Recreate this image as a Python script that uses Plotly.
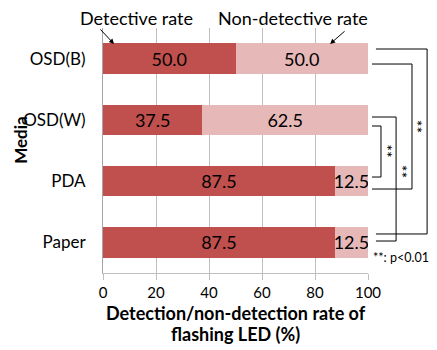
import plotly.graph_objects as go

media = ["OSD(B)", "OSD(W)", "PDA", "Paper"]
detective = [50.0, 37.5, 87.5, 87.5]
non_detective = [50.0, 62.5, 12.5, 12.5]
x_ticks = [0, 20, 40, 60, 80, 100]
# significance pairs (index of top category, index of bottom category)
sig_pairs = [(0, 3), (0, 2), (1, 3), (1, 2)]
sig_label = "**"

FONT = "Lato"
fig = go.Figure()
fig.add_trace(go.Bar(
    y=media, x=detective, orientation="h", name="Detective rate",
    marker=dict(color="#C0504D", line=dict(width=0)),
    text=detective, texttemplate="%{x:.1f}", textposition="inside",
    insidetextanchor="middle", constraintext="none",
    textfont=dict(family=FONT, size=18, color="black"),
))
fig.add_trace(go.Bar(
    y=media, x=non_detective, orientation="h", name="Non-detective rate",
    marker=dict(color="#E6B9B8", line=dict(width=0)),
    text=non_detective, texttemplate="%{x:.1f}", textposition="inside",
    insidetextanchor="middle", constraintext="none",
    textfont=dict(family=FONT, size=18, color="black"),
))

# page body has an 8px default margin, so the figure is sized to fit the window
fig.update_layout(
    width=429, height=342,
    margin=dict(l=95, r=69, t=20, b=77, autoexpand=False),
    barmode="stack", bargap=0.5,
    showlegend=False,
    plot_bgcolor="white", paper_bgcolor="white",
    font=dict(family=FONT, size=15, color="black"),
    xaxis=dict(range=[0, 100], tickvals=x_ticks, showgrid=True,
               gridcolor="#BFBFBF", gridwidth=1, zeroline=False,
               showline=True, linecolor="#BFBFBF", ticks="outside",
               ticklen=6, tickcolor="#BFBFBF",
               tickfont=dict(family=FONT, size=15)),
    yaxis=dict(categoryorder="array", categoryarray=media,
               autorange="reversed", showgrid=False, showline=True,
               linecolor="#A6A6A6", ticks="", ticklabelstandoff=13,
               tickfont=dict(family=FONT, size=17)),
)

# significance brackets: (top y offset, bottom y offset, x_left_top, x_left_bottom, x_right, x_stars, star offset)
bracket_geom = [
    (-0.157, -0.137, 1.030, 1.030, 1.223, 1.236, 0.0),
    (0.088, 0.129, 1.015, 1.015, 1.166, 1.188, 0.0),
    (-0.047, -0.022, 1.015, 1.030, 1.106, 1.128, -0.12),
    (0.100, -0.067, 1.015, 1.015, 1.049, 1.073, 0.0),
]
for (a, b), (dt, db, xl_t, xl_b, xr, xs, so) in zip(sig_pairs, bracket_geom):
    yt = a + dt
    yb = b + db
    line = dict(color="black", width=1)
    fig.add_shape(type="line", xref="paper", yref="y", x0=xl_t, x1=xr, y0=yt, y1=yt, line=line)
    fig.add_shape(type="line", xref="paper", yref="y", x0=xr, x1=xr, y0=yt, y1=yb, line=line)
    fig.add_shape(type="line", xref="paper", yref="y", x0=xl_b, x1=xr, y0=yb, y1=yb, line=line)
    fig.add_annotation(xref="paper", yref="y", x=xs, y=(yt + yb) / 2 + so, text=sig_label,
                       xanchor="center", yanchor="middle",
                       textangle=90, showarrow=False, font=dict(family=FONT, size=16))

fig.add_annotation(xref="paper", yref="paper", x=1.010, y=0.065, xanchor="left",
                   yanchor="middle", text="**: p<0.01", showarrow=False,
                   font=dict(family=FONT, size=12.5))

# series labels with arrows
fig.add_annotation(xref="paper", yref="paper", x=0.128, y=1.041, xanchor="center",
                   yanchor="middle", text="Detective rate",
                   showarrow=False, font=dict(family=FONT, size=18))
fig.add_annotation(xref="paper", yref="paper", x=0.717, y=1.041, xanchor="center",
                   yanchor="middle", text="Non-detective rate",
                   showarrow=False, font=dict(family=FONT, size=18))
fig.add_annotation(xref="paper", yref="paper", x=0.0415, y=0.935, ax=-15, ay=-16, text="",
                   showarrow=True, arrowhead=2, arrowsize=1, arrowwidth=1, arrowcolor="black")
fig.add_annotation(xref="paper", yref="paper", x=0.857, y=0.935, ax=16, ay=-14, text="",
                   showarrow=True, arrowhead=2, arrowsize=1, arrowwidth=1, arrowcolor="black")

# axis titles
fig.add_annotation(xref="paper", yref="paper", x=-0.31, y=0.543, xanchor="center",
                   yanchor="middle", text="<b>Media</b>",
                   textangle=-90, showarrow=False, font=dict(family=FONT, size=17))
fig.add_annotation(xref="paper", yref="paper", x=0.5, y=-0.163, xanchor="center",
                   yanchor="middle", text="<b>Detection/non-detection rate of</b>",
                   showarrow=False, font=dict(family=FONT, size=18))
fig.add_annotation(xref="paper", yref="paper", x=0.5, y=-0.249, xanchor="center",
                   yanchor="middle", text="<b>flashing LED (%)</b>",
                   showarrow=False, font=dict(family=FONT, size=18))

fig.write_html("out.html")
